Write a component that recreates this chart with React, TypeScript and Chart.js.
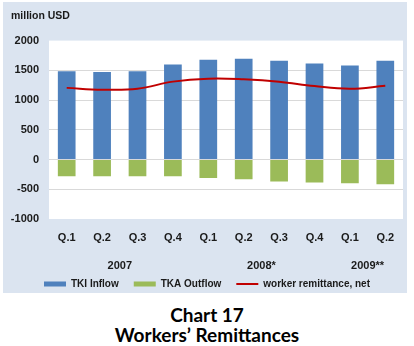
import React, { useEffect, useRef } from 'react';
import { Chart, registerables } from 'chart.js';

Chart.register(...registerables);

const categories = ['Q.1', 'Q.2', 'Q.3', 'Q.4', 'Q.1', 'Q.2', 'Q.3', 'Q.4', 'Q.1', 'Q.2'];
const years = ['2007', '2008*', '2009**'];
const yearFirstIndex = [0, 4, 8];
const yearLastIndex = [3, 7, 9];
const tkiInflow = [1485, 1472, 1485, 1600, 1677, 1694, 1660, 1614, 1580, 1660];
const tkaOutflow = [-282, -282, -282, -282, -310, -333, -368, -385, -397, -414];
const netRemittance = [1205, 1175, 1190, 1310, 1360, 1350, 1310, 1235, 1190, 1240];
const yTicks = [-1000, -500, 0, 500, 1000, 1500, 2000];

const BLUE = '#4f81bd';
const GREEN = '#9bbb59';
const RED = '#c00000';
const PANEL = '#dbe4f0';
const TEXT = '#1a1a1a';
const FAMILY = 'Arial, "Liberation Sans", sans-serif';

const chartAreaBg = {
  id: 'chartAreaBg',
  beforeDraw(chart: any) {
    const { ctx, chartArea } = chart;
    if (!chartArea) return;
    ctx.save();
    ctx.fillStyle = '#ffffff';
    ctx.fillRect(chartArea.left, chartArea.top, chartArea.right - chartArea.left, chartArea.bottom - chartArea.top);
    ctx.restore();
  },
};

const yearLabels = {
  id: 'yearLabels',
  afterDraw(chart: any) {
    const { ctx } = chart;
    const x = chart.scales.x;
    ctx.save();
    ctx.fillStyle = TEXT;
    ctx.font = `bold 11px ${FAMILY}`;
    ctx.textAlign = 'center';
    ctx.textBaseline = 'middle';
    years.forEach((label, i) => {
      const cx = (x.getPixelForValue(yearFirstIndex[i]) + x.getPixelForValue(yearLastIndex[i])) / 2;
      ctx.fillText(label, cx, x.top + 47);
    });
    ctx.restore();
  },
};

export default function App() {
  const canvasRef = useRef<HTMLCanvasElement | null>(null);

  useEffect(() => {
    if (!canvasRef.current) return;
    const font = { family: FAMILY, size: 11, weight: 'bold' as const };
    const chart = new Chart(canvasRef.current, {
      type: 'bar',
      data: {
        labels: categories,
        datasets: [
          {
            type: 'bar',
            label: 'TKI Inflow',
            data: tkiInflow,
            backgroundColor: BLUE,
            borderWidth: 0,
            stack: 'flows',
            barPercentage: 0.5,
            categoryPercentage: 1,
            order: 1,
          },
          {
            type: 'bar',
            label: 'TKA Outflow',
            data: tkaOutflow,
            backgroundColor: GREEN,
            borderWidth: 0,
            stack: 'flows',
            barPercentage: 0.5,
            categoryPercentage: 1,
            order: 1,
          },
          {
            type: 'line',
            label: 'worker remittance, net',
            data: netRemittance,
            borderColor: RED,
            backgroundColor: RED,
            borderWidth: 2,
            pointRadius: 0,
            tension: 0.4,
            stack: 'net',
            order: 0,
          } as any,
        ],
      },
      options: {
        animation: false,
        responsive: false,
        layout: { padding: { left: 8, right: 4, top: 0, bottom: 0 } },
        plugins: {
          title: {
            display: true,
            text: 'million USD',
            align: 'start',
            color: TEXT,
            font: { family: FAMILY, size: 10.5, weight: 'bold' },
            padding: { top: 8, bottom: 18 },
          },
          legend: {
            position: 'bottom',
            labels: {
              usePointStyle: true,
              pointStyleWidth: 22,
              boxHeight: 5,
              padding: 15,
              color: TEXT,
              font: { family: FAMILY, size: 10, weight: 'bold' },
              generateLabels: () => [
                { text: 'TKI Inflow', fillStyle: BLUE, strokeStyle: BLUE, lineWidth: 0, pointStyle: 'rect', datasetIndex: 0, hidden: false, fontColor: TEXT },
                { text: 'TKA Outflow', fillStyle: GREEN, strokeStyle: GREEN, lineWidth: 0, pointStyle: 'rect', datasetIndex: 1, hidden: false, fontColor: TEXT },
                { text: 'worker remittance, net', fillStyle: RED, strokeStyle: RED, lineWidth: 2, pointStyle: 'line', datasetIndex: 2, hidden: false, fontColor: TEXT },
              ] as any,
            },
          },
          tooltip: { enabled: false },
        },
        scales: {
          x: {
            stacked: true,
            grid: { display: false },
            border: { display: false },
            afterFit: (s: any) => {
              s.height = 45;
            },
            ticks: { padding: 4, font, color: TEXT, maxRotation: 0, autoSkip: false },
          },
          y: {
            stacked: true,
            min: -1000,
            max: 2000,
            afterBuildTicks: (s: any) => {
              s.ticks = yTicks.map((v) => ({ value: v }));
            },
            afterFit: (s: any) => {
              s.width = 38;
            },
            grid: {
              color: (ctx: any) =>
                ctx.tick && (ctx.tick.value === 2000 || ctx.tick.value === -1000) ? 'rgba(0,0,0,0)' : '#d9d9d9',
              drawTicks: false,
            },
            border: { display: false },
            ticks: { padding: 10, font, color: TEXT, callback: (v: any) => String(v) },
          },
        },
      } as any,
      plugins: [chartAreaBg, yearLabels],
    });
    return () => chart.destroy();
  }, []);

  return (
    <div style={{ position: 'absolute', left: 0, top: 0, width: 414, height: 346, background: '#ffffff' }}>
      <div style={{ position: 'absolute', left: 3, top: 2, width: 404, height: 291, background: PANEL }} />
      <canvas
        ref={canvasRef}
        width={404}
        height={297}
        style={{ display: 'block', position: 'absolute', left: 3, top: 2 }}
      />
      <div
        style={{
          position: 'absolute',
          left: 0,
          top: 305,
          width: 414,
          textAlign: 'center',
          fontFamily: 'Lato, "Open Sans", sans-serif',
          fontWeight: 'bold',
          fontSize: 19,
          lineHeight: '20px',
          color: '#000',
        }}
      >
        <div>Chart 17</div>
        <div>Workers’ Remittances</div>
      </div>
    </div>
  );
}
